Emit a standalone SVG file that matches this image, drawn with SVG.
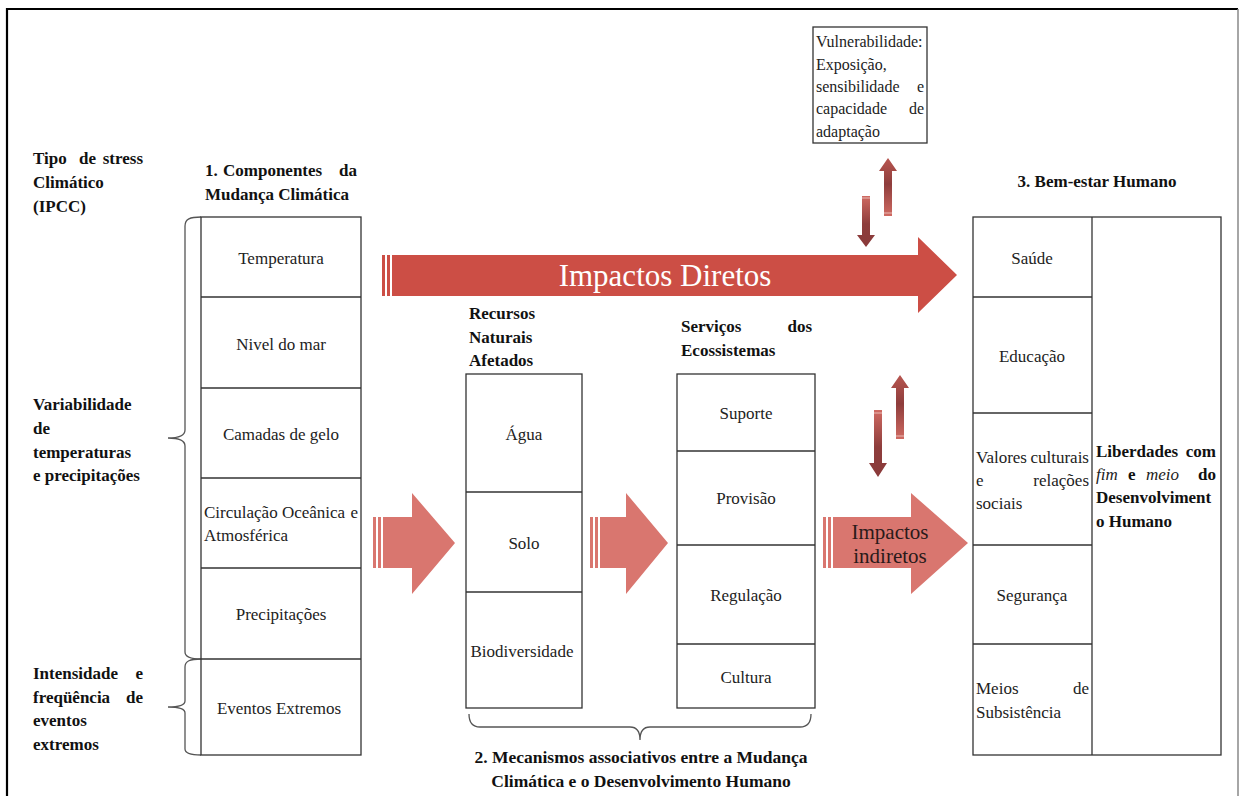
<svg xmlns="http://www.w3.org/2000/svg" width="1240" height="796" viewBox="0 0 1240 796">
<defs>
<style>
.t{font-family:'Liberation Serif','Tinos','Times New Roman',serif;font-size:17px;fill:#222;}
.v{font-size:16px;}
.c{text-anchor:middle;}
.e{text-anchor:end;}
.b{font-weight:bold;fill:#111;}
.i{font-style:italic;font-weight:normal;}
.box{fill:#fff;stroke:#333;stroke-width:1.3;}
.ln{stroke:#333;stroke-width:1.3;}
.br{fill:none;stroke:#555;stroke-width:1.3;}
.big{fill:#cc4e45;}
.pink{fill:#d9766f;}
</style>
<linearGradient id="ga" x1="0" y1="0" x2="0" y2="1">
<stop offset="0" stop-color="#cf6a62"/>
<stop offset="0.55" stop-color="#8e3d3c"/>
<stop offset="1" stop-color="#8a3a3a"/>
</linearGradient>
<linearGradient id="gb" x1="0" y1="1" x2="0" y2="0">
<stop offset="0" stop-color="#cf6a62"/>
<stop offset="0.55" stop-color="#8e3d3c"/>
<stop offset="1" stop-color="#b85650"/>
</linearGradient>
</defs>
<rect width="1240" height="796" fill="#fff"/>
<g id="frame">
<path d="M7,800 L7,9 L1238,9" fill="none" stroke="#000" stroke-width="2.2"/>
<path d="M1238,9 L1238,800" fill="none" stroke="#888" stroke-width="1.5"/>
</g>

<g id="left-labels">
<text class="t b" x="33" y="164">Tipo</text>
<text class="t b" x="79" y="164">de</text>
<text class="t b e" x="143" y="164">stress</text>
<text class="t b" x="33" y="188">Climático</text>
<text class="t b" x="33" y="212">(IPCC)</text>
<text class="t b" x="33" y="410">Variabilidade</text>
<text class="t b" x="33" y="434">de</text>
<text class="t b" x="33" y="458">temperaturas</text>
<text class="t b" x="33" y="481">e precipitações</text>
<text class="t b" x="33" y="679">Intensidade</text>
<text class="t b e" x="143" y="679">e</text>
<text class="t b" x="33" y="703">freqüência</text>
<text class="t b e" x="143" y="703">de</text>
<text class="t b" x="33" y="726">eventos</text>
<text class="t b" x="33" y="750">extremos</text>
</g>

<g id="braces">
<path class="br" d="M201,217 C190,217 185,219 185,226 L185,430 C185,436 178,438 168,438 C178,438 185,440 185,446 L185,652 C185,657 192,659 201,659"/>
<path class="br" d="M201,659 C190,659 185,661 185,667 L185,701 C185,705 178,707 168,707 C178,707 185,709 185,713 L185,749 C185,753 192,755 201,755"/>
<path class="br" d="M469,714 C469,722 472,727 480,727 L630,727 C637,727 640,731 640,740 C640,731 643,727 650,727 L800,727 C808,727 811,722 811,714"/>
</g>

<g id="componentes">
<text class="t b" x="205" y="176">1.</text>
<text class="t b" x="223" y="176">Componentes</text>
<text class="t b e" x="357" y="176">da</text>
<text class="t b" x="205" y="200">Mudança Climática</text>
<rect class="box" x="201" y="217" width="160" height="538"/>
<line class="ln" x1="201" y1="297" x2="361" y2="297"/>
<line class="ln" x1="201" y1="388" x2="361" y2="388"/>
<line class="ln" x1="201" y1="478" x2="361" y2="478"/>
<line class="ln" x1="201" y1="568" x2="361" y2="568"/>
<line class="ln" x1="201" y1="659" x2="361" y2="659"/>
<text class="t c" x="281" y="264">Temperatura</text>
<text class="t c" x="281" y="350">Nivel do mar</text>
<text class="t c" x="281" y="440">Camadas de gelo</text>
<text class="t" x="204" y="518">Circulação Oceânica</text>
<text class="t e" x="358" y="518">e</text>
<text class="t" x="204" y="541">Atmosférica</text>
<text class="t c" x="281" y="620">Precipitações</text>
<text class="t c" x="279" y="714">Eventos Extremos</text>
</g>

<g id="recursos">
<text class="t b" x="469" y="319">Recursos</text>
<text class="t b" x="469" y="343">Naturais</text>
<text class="t b" x="469" y="366">Afetados</text>
<rect class="box" x="466" y="374" width="116" height="334"/>
<line class="ln" x1="466" y1="492" x2="582" y2="492"/>
<line class="ln" x1="466" y1="592" x2="582" y2="592"/>
<text class="t c" x="524" y="440">Água</text>
<text class="t c" x="524" y="549">Solo</text>
<text class="t c" x="522" y="657">Biodiversidade</text>
</g>

<g id="servicos">
<text class="t b" x="681" y="332">Serviços</text>
<text class="t b e" x="812" y="332">dos</text>
<text class="t b" x="681" y="356">Ecossistemas</text>
<rect class="box" x="677" y="374" width="138" height="334"/>
<line class="ln" x1="677" y1="451" x2="815" y2="451"/>
<line class="ln" x1="677" y1="545" x2="815" y2="545"/>
<line class="ln" x1="677" y1="644" x2="815" y2="644"/>
<text class="t c" x="746" y="419">Suporte</text>
<text class="t c" x="746" y="504">Provisão</text>
<text class="t c" x="746" y="601">Regulação</text>
<text class="t c" x="746" y="683">Cultura</text>
</g>

<g id="vulnerabilidade">
<rect class="box" x="813" y="27" width="114" height="116"/>
<text class="t v" x="816" y="47">Vulnerabilidade:</text>
<text class="t v" x="816" y="70">Exposição,</text>
<text class="t v" x="816" y="92">sensibilidade</text>
<text class="t v e" x="924" y="92">e</text>
<text class="t v" x="816" y="114">capacidade</text>
<text class="t v e" x="924" y="114">de</text>
<text class="t v" x="816" y="137">adaptação</text>
</g>

<g id="bem-estar">
<text class="t b c" x="1097" y="187">3. Bem-estar Humano</text>
<rect class="box" x="973" y="217" width="248" height="538"/>
<line class="ln" x1="1092" y1="217" x2="1092" y2="755"/>
<line class="ln" x1="973" y1="297" x2="1092" y2="297"/>
<line class="ln" x1="973" y1="413" x2="1092" y2="413"/>
<line class="ln" x1="973" y1="545" x2="1092" y2="545"/>
<line class="ln" x1="973" y1="644" x2="1092" y2="644"/>
<text class="t c" x="1032" y="264">Saúde</text>
<text class="t c" x="1032" y="362">Educação</text>
<text class="t" x="976" y="463">Valores</text>
<text class="t e" x="1089" y="463">culturais</text>
<text class="t" x="976" y="486">e</text>
<text class="t e" x="1089" y="486">relações</text>
<text class="t" x="976" y="509">sociais</text>
<text class="t c" x="1032" y="601">Segurança</text>
<text class="t" x="976" y="694">Meios</text>
<text class="t e" x="1089" y="694">de</text>
<text class="t" x="976" y="718">Subsistência</text>
<text class="t b" x="1096" y="457">Liberdades</text>
<text class="t b e" x="1216" y="457">com</text>
<text class="t i" x="1096" y="480">fim</text>
<text class="t b" x="1128" y="480">e</text>
<text class="t i" x="1146" y="480">meio</text>
<text class="t b e" x="1216" y="480">do</text>
<text class="t b" x="1096" y="503">Desenvolviment</text>
<text class="t b" x="1096" y="527">o Humano</text>
</g>

<g id="connectors">
<g id="impactos-diretos">
<rect class="big" x="382" y="255" width="3" height="41"/>
<rect class="big" x="387" y="255" width="3" height="41"/>
<path class="big" d="M392,255 L918,255 L918,237 L957,275 L918,313 L918,296 L392,296 Z"/>
<text class="t c" x="665" y="286" style="font-size:31px;fill:#fff">Impactos Diretos</text>
</g>
<g id="arrow-a">
<rect class="pink" x="373" y="517" width="3" height="51"/>
<rect class="pink" x="378" y="517" width="3" height="51"/>
<path class="pink" d="M383,517 L412,517 L412,493 L455,543 L412,594 L412,568 L383,568 Z"/>
</g>
<g id="arrow-b">
<rect class="pink" x="590" y="517" width="3" height="51"/>
<rect class="pink" x="595" y="517" width="3" height="51"/>
<path class="pink" d="M600,517 L626,517 L626,493 L668,543 L626,594 L626,568 L600,568 Z"/>
</g>
<g id="impactos-indiretos">
<rect class="pink" x="823" y="517" width="3" height="51"/>
<rect class="pink" x="828" y="517" width="3" height="51"/>
<path class="pink" d="M833,517 L911,517 L911,493 L968,543 L911,594 L911,568 L833,568 Z"/>
<text class="t c" x="890" y="539" style="font-size:21px;fill:#2a1a1a">Impactos</text>
<text class="t c" x="890" y="563" style="font-size:21px;fill:#2a1a1a">indiretos</text>
</g>
<g id="small-arrows">
<path fill="url(#ga)" d="M862,196 L870,196 L870,235 L875,235 L866,247 L857,235 L862,235 Z"/>
<line x1="862" y1="198" x2="870" y2="198" stroke="#f3d0cc" stroke-width="0.8"/>
<path fill="url(#gb)" d="M884,216 L892,216 L892,171 L897,171 L888,158 L879,171 L884,171 Z"/>
<line x1="884" y1="213" x2="892" y2="213" stroke="#f3d0cc" stroke-width="0.8"/>
<path fill="url(#ga)" d="M874,410 L882,410 L882,463 L887,463 L878,477 L869,463 L874,463 Z"/>
<line x1="874" y1="413" x2="882" y2="413" stroke="#f3d0cc" stroke-width="0.8"/>
<path fill="url(#gb)" d="M896,439 L904,439 L904,388 L909,388 L900,375 L891,388 L896,388 Z"/>
<line x1="896" y1="436" x2="904" y2="436" stroke="#f3d0cc" stroke-width="0.8"/>
</g>
</g>

<g id="mecanismos">
<text class="t b c" x="641" y="763" style="font-size:17.5px">2. Mecanismos associativos entre a Mudança</text>
<text class="t b c" x="641" y="787" style="font-size:17.5px">Climática e o Desenvolvimento Humano</text>
</g>
</svg>
